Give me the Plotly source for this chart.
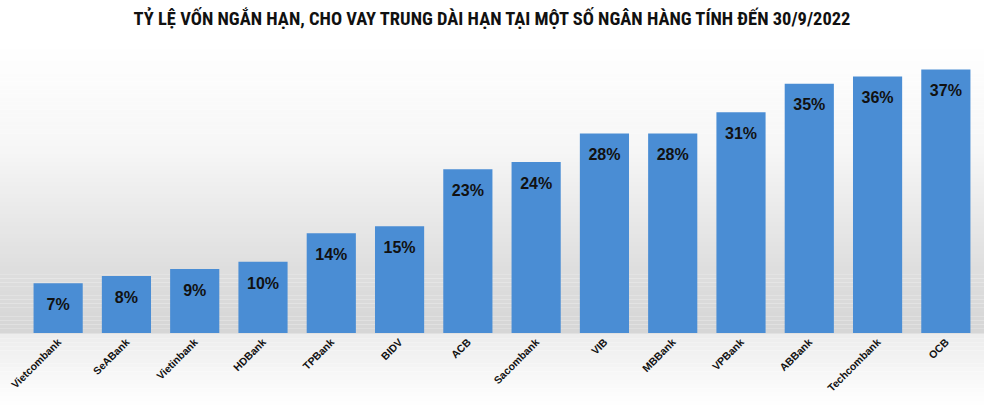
import plotly.graph_objects as go

banks = ['Vietcombank', 'SeABank', 'Vietinbank', 'HDBank', 'TPBank', 'BIDV', 'ACB',
         'Sacombank', 'VIB', 'MBBank', 'VPBank', 'ABBank', 'Techcombank', 'OCB']
ratio = [7, 8, 9, 10, 14, 15, 23, 24, 28, 28, 31, 35, 36, 37]
# small blank first line pushes the label a bit further down into the bar
labels = [f'<span style="font-size:3px"> </span><br><b>{v}%</b>' for v in ratio]

title = 'TỶ LỆ VỐN NGẮN HẠN, CHO VAY TRUNG DÀI HẠN TẠI MỘT SỐ NGÂN HÀNG TÍNH ĐẾN 30/9/2022'

W, H = 984, 409
top, bottom = 48, 76
plot_h = H - top - bottom


def to_paper(py):
    return (H - bottom - py) / plot_h


def mix(a, b, t):
    return tuple(round(a[i] + (b[i] - a[i]) * t) for i in range(3))


# soft grey background like the excel chart area
stops = [(45, (255, 255, 255)), (150, (246, 246, 246)), (270, (222, 222, 222)),
         (333, (214, 214, 214)), (334, (236, 236, 236)), (405, (255, 255, 255))]
shapes = []
for (y0, c0), (y1, c1) in zip(stops[:-1], stops[1:]):
    n = max(1, (y1 - y0) // 4)
    for k in range(n):
        a = y0 + (y1 - y0) * k / n
        b = y0 + (y1 - y0) * (k + 1) / n
        r, g, bl = mix(c0, c1, (k + 0.5) / n)
        shapes.append(dict(type='rect', xref='paper', yref='paper', layer='below',
                           x0=-0.03, x1=1.01, y0=to_paper(b), y1=to_paper(a),
                           line=dict(width=0), fillcolor=f'rgb({r},{g},{bl})'))

fig = go.Figure(go.Bar(
    x=banks, y=ratio, text=labels,
    textposition='inside', insidetextanchor='end', textangle=0,
    textfont=dict(family='Liberation Sans, Arial, sans-serif', size=16, color='#111111'),
    marker=dict(color='#4a8dd4', line=dict(width=0)),
))

fig.update_layout(
    width=W, height=H,
    margin=dict(l=24, r=4, t=top, b=bottom, autoexpand=False),
    title=dict(text='<b>' + title + '</b>', x=0.5, xref='container', y=0.955, yanchor='middle',
               font=dict(family='Liberation Sans Narrow, Roboto Condensed, Arial Narrow, sans-serif',
                         size=18.5, color='#111111')),
    bargap=0.28,
    paper_bgcolor='white', plot_bgcolor='rgba(0,0,0,0)',
    shapes=shapes,
    showlegend=False,
    xaxis=dict(tickangle=-45, showline=False, ticks='', showgrid=False, automargin=False,
               tickfont=dict(family='Liberation Sans, Arial, sans-serif', size=10.5, color='#111111'),
               tickprefix='<b>', ticksuffix='</b>'),
    yaxis=dict(range=[0, 40], visible=False, showgrid=False, zeroline=False, automargin=False),
)

# page default margin would push the figure 8px off the window
fig.write_html('out.html', config={'displayModeBar': False},
               post_script="document.body.style.margin='0';")
